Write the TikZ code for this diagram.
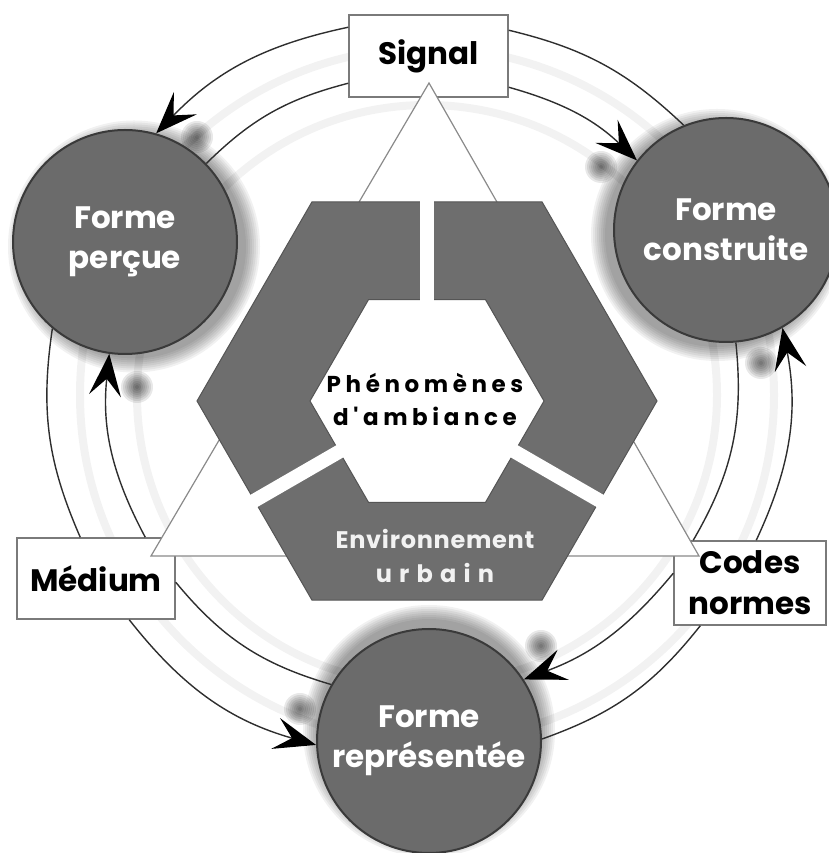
\documentclass[tikz,border=0pt]{standalone}
\usepackage{fontspec}
\setmainfont{Poppins}
\newfontfamily\hexfont{Poppins}[LetterSpace=20]
\newfontfamily\envfont{Poppins}[LetterSpace=3]
\newfontfamily\urbfont{Poppins}[LetterSpace=30]
\usetikzlibrary{arrows.meta,calc}
\definecolor{circfill}{HTML}{6B6B6B}
\definecolor{circline}{HTML}{3A3A3A}
\definecolor{hexfill}{HTML}{6E6E6E}
\definecolor{hexline}{HTML}{555555}
\definecolor{boxline}{HTML}{7A7A7A}
\definecolor{arcline}{HTML}{2E2E2E}
\definecolor{triline}{HTML}{8A8A8A}
\begin{document}
\begin{tikzpicture}[x=1pt,y=1pt,
  forme/.style={circle, fill=circfill, draw=circline, line width=2pt, minimum size=224pt, inner sep=0pt, align=center, text=white, font=\bfseries\fontsize{31}{40}\selectfont},
  labelbox/.style={draw=boxline, fill=white, line width=1.5pt, inner sep=0pt, align=center, font=\bfseries\fontsize{31}{41}\selectfont},
  ringarc/.style={draw=arcline, line width=1.4pt},
  ringarrow/.style={ringarc, -{Stealth[length=42pt,width=32pt,inset=17pt,black]}},
  glow/.style={black, opacity=0.055},
  blob/.style={black, opacity=0.09},
  faint/.style={draw=black!5, line width=8pt},
]
\useasboundingbox (0,0) rectangle (828,853);

% centres
\coordinate (C) at (427,458);
\coordinate (H) at (427,452);
\coordinate (Pc) at (125,611);
\coordinate (Kc) at (726,623);
\coordinate (Rc) at (429,112);

% faint shadow rings
\draw[faint] (C) circle[radius=347];
\draw[faint] (C) circle[radius=290];

% circle glows
\foreach \k in {1,...,8}{
  \fill[glow] ($(Pc)+(9,-4.5)$) circle[radius={110+2*\k}];
  \fill[glow] ($(Kc)+(-9,-5)$) circle[radius={110+2*\k}];
  \fill[glow] ($(Rc)+(0,10)$) circle[radius={110+2*\k}];
}
% arrow shadow blobs
\foreach \bx/\by in {197/716, 137/466, 601/686, 761/490, 541/207, 300/144}{
  \foreach \k in {1,...,8}{
    \fill[blob] (\bx,\by) circle[radius={2*\k}];
  }
}

% circles
\node[forme] (P) at (Pc) {Forme\\perçue};
\node[forme] (K) at (Kc) {Forme\\construite};
\node[forme] (R) at (Rc) {Forme\\représentée};

% boxes
\node[labelbox, minimum width=159pt, minimum height=82pt] (sig) at (428.5,797) {Signal};
\node[labelbox, minimum width=158pt, minimum height=81pt] (med) at (96,274.5) {Médium};
\node[labelbox, minimum width=152pt, minimum height=84pt] (cod) at (750,270) {Codes\\normes};

% arc end points on the boxes
\coordinate (sOL) at ([yshift=-13pt]sig.north west);
\coordinate (sIL) at ([yshift=-69pt]sig.north west);
\coordinate (sOR) at ([yshift=-16pt]sig.north east);
\coordinate (sIR) at ([yshift=-73pt]sig.north east);
\coordinate (mOT) at ([xshift=64pt]med.north west);
\coordinate (mIT) at ([xshift=129pt]med.north west);
\coordinate (mOB) at ([xshift=113pt]med.south west);
\coordinate (mIR) at ([yshift=-45pt]med.north east);
\coordinate (cOT) at ([xshift=83pt]cod.north west);
\coordinate (cIT) at ([xshift=20pt]cod.north west);
\coordinate (cIL) at ([yshift=-33pt]cod.north west);
\coordinate (cOB) at ([xshift=27pt]cod.south west);

% ring arcs
\draw[ringarrow] (sOL) to[bend right=17] (P.74);
\draw[ringarc]   (sIL) to[bend right=15] (P.44);
\draw[ringarc]   (sOR) to[bend left=15] (K.112);
\draw[ringarrow] (sIR) to[bend left=14] (K.142);
\draw[ringarrow] (cOT) to[bend right=18] (K.300);
\draw[ringarc]   (K.275) to[bend left=18] (cIT);
\draw[ringarrow] (cIL) to[bend left=15] (R.33);
\draw[ringarc]   (cOB) to[bend left=16] (R.1);
\draw[ringarrow] (mOB) to[bend right=18] (R.182);
\draw[ringarc]   (mIR) to[bend right=17] (R.150);
\draw[ringarrow] (mIT) to[bend left=17] (P.262);
\draw[ringarc]   (P.230) to[bend right=16] (mOT);

% triangle
\coordinate (tA) at (429,770);
\coordinate (tB) at (151,297);
\coordinate (tC) at (699,297);
\filldraw[fill=white, draw=triline, line width=1.2pt] (tA) -- (tB) -- (tC) -- cycle;

% hexagon ring
\filldraw[fill=hexfill, draw=hexline, line width=1pt, even odd rule]
  ($(H)+(0:230)$) -- ($(H)+(60:230)$) -- ($(H)+(120:230)$) -- ($(H)+(180:230)$) -- ($(H)+(240:230)$) -- ($(H)+(300:230)$) -- cycle
  ($(H)+(0:117)$) -- ($(H)+(60:117)$) -- ($(H)+(120:117)$) -- ($(H)+(180:117)$) -- ($(H)+(240:117)$) -- ($(H)+(300:117)$) -- cycle;
\foreach \a in {90,210,330}{
  \draw[white, line width=14pt] ($(H)+(\a:95)$) -- ($(H)+(\a:204)$);
}

% hexagon texts
\node[font=\hexfont\bfseries\fontsize{23}{33}\selectfont, align=center] (phen) at (425,453) {Phénomènes\\d'ambiance};
\node[font=\envfont\bfseries\fontsize{24}{34}\selectfont, text=white!95!black, align=center] (env) at (435,297) {Environnement\\{\urbfont\bfseries urbain}};
\end{tikzpicture}
\end{document}
